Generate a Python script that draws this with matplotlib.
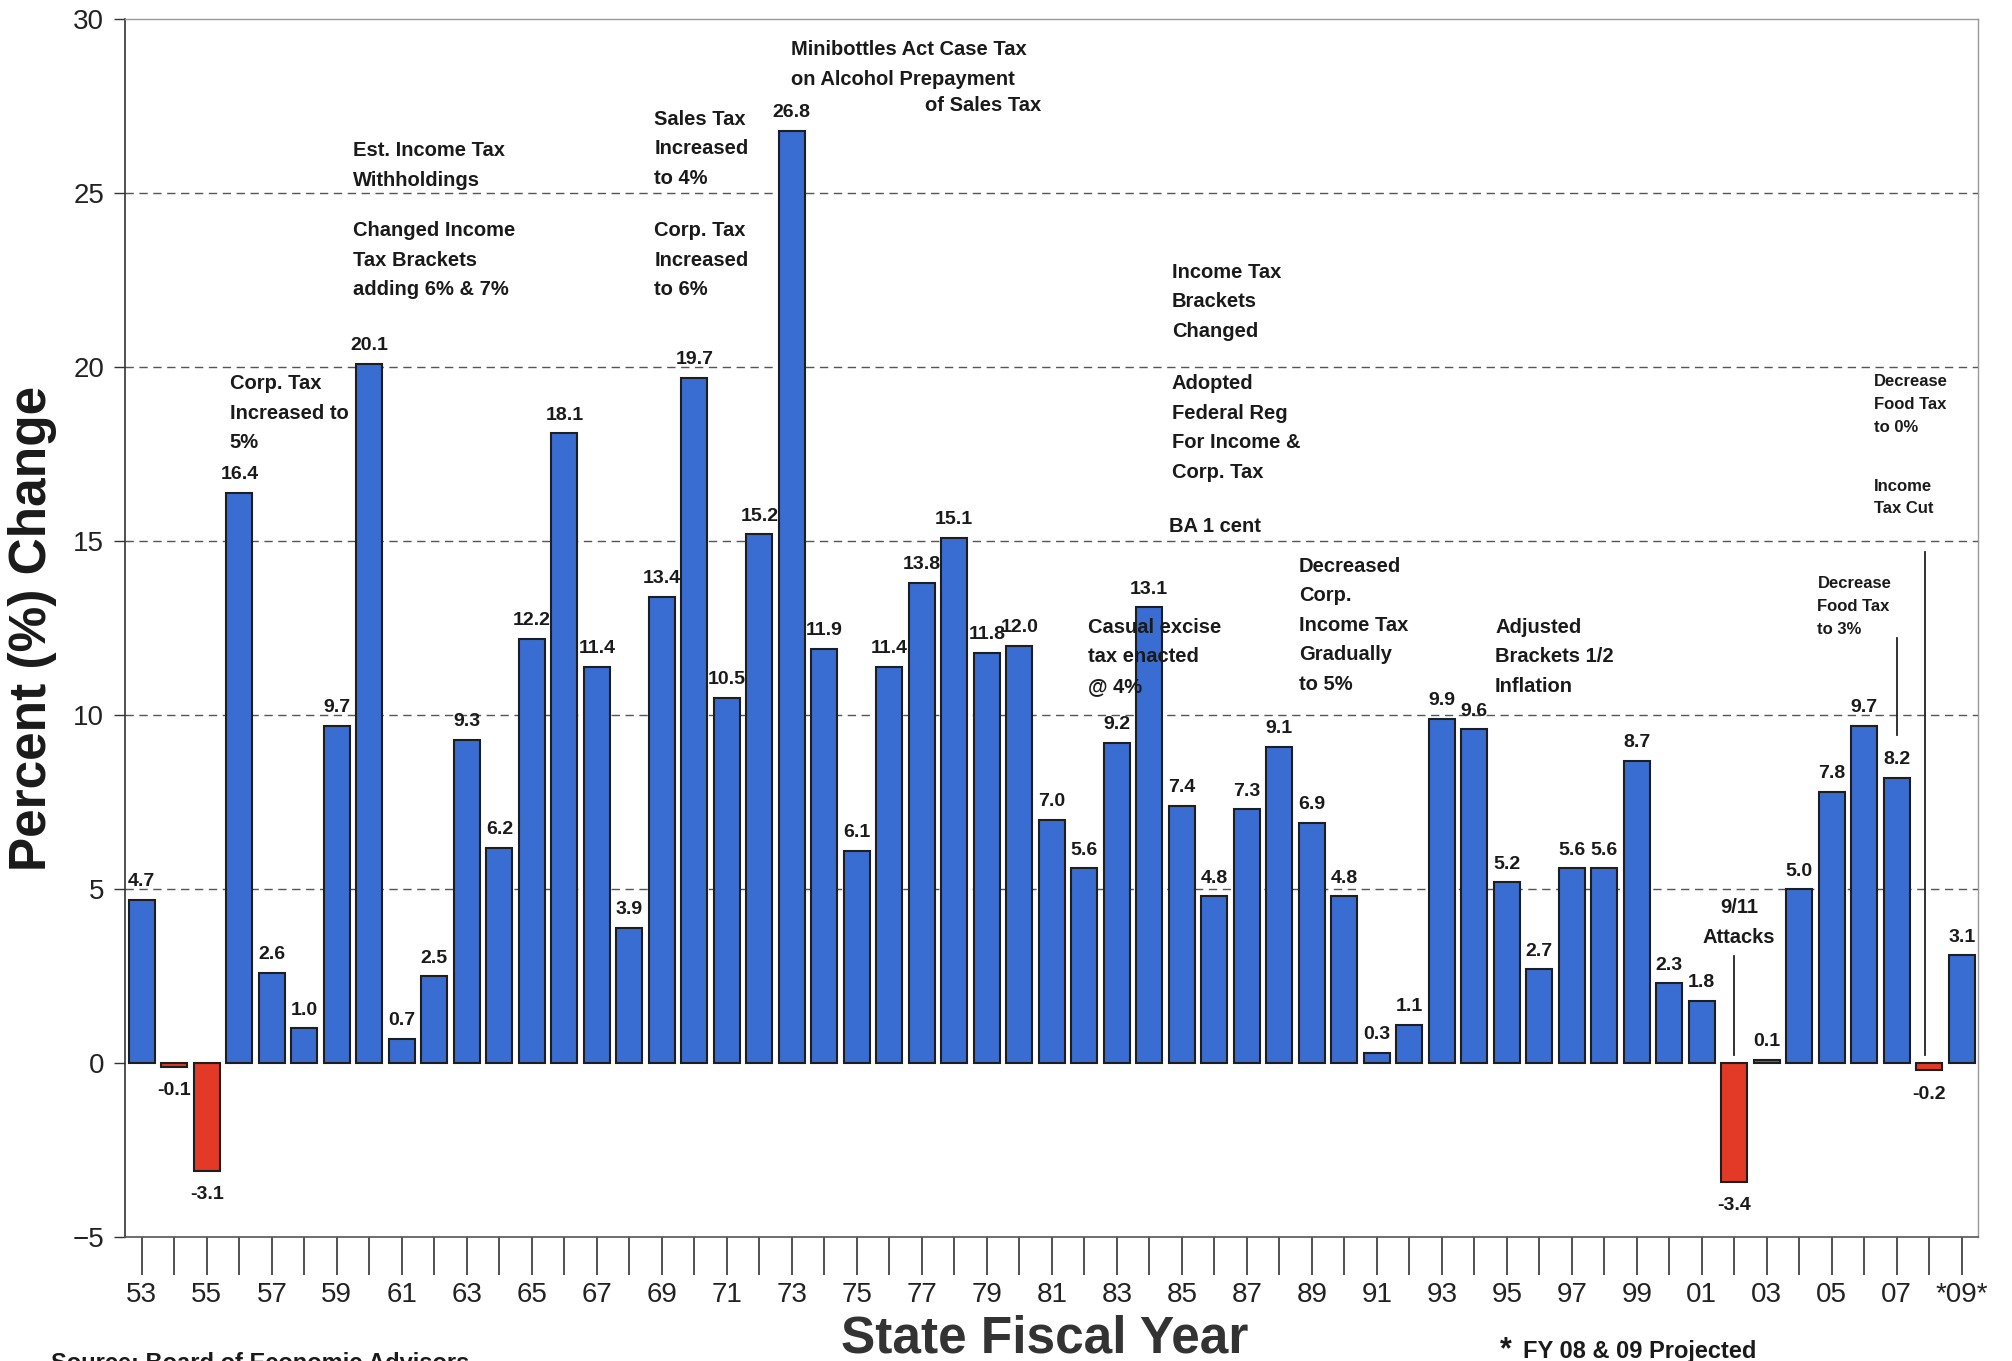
import numpy as np
import matplotlib
matplotlib.use("Agg")
import matplotlib.pyplot as plt

plt.rcParams['font.family'] = ['Liberation Sans', 'DejaVu Sans']

years = ['53', '54', '55', '56', '57', '58', '59', '60', '61', '62',
         '63', '64', '65', '66', '67', '68', '69', '70', '71', '72',
         '73', '74', '75', '76', '77', '78', '79', '80', '81', '82',
         '83', '84', '85', '86', '87', '88', '89', '90', '91', '92',
         '93', '94', '95', '96', '97', '98', '99', '00', '01', '02',
         '03', '04', '05', '06', '07', '08', '09']
pct_change = [4.7, -0.1, -3.1, 16.4, 2.6, 1.0, 9.7, 20.1, 0.7, 2.5,
              9.3, 6.2, 12.2, 18.1, 11.4, 3.9, 13.4, 19.7, 10.5, 15.2,
              26.8, 11.9, 6.1, 11.4, 13.8, 15.1, 11.8, 12.0, 7.0, 5.6,
              9.2, 13.1, 7.4, 4.8, 7.3, 9.1, 6.9, 4.8, 0.3, 1.1,
              9.9, 9.6, 5.2, 2.7, 5.6, 5.6, 8.7, 2.3, 1.8, -3.4,
              0.1, 5.0, 7.8, 9.7, 8.2, -0.2, 3.1]
projected = ['08', '09']

# (text, x in bar index units, top y in %, font size)
notes = [
    ("Corp. Tax\nIncreased to\n5%", 2.70, 19.8, 14.5),
    ("Est. Income Tax\nWithholdings", 6.49, 26.5, 14.5),
    ("Changed Income\nTax Brackets\nadding 6% & 7%", 6.49, 24.2, 14.5),
    ("Sales Tax\nIncreased\nto 4%", 15.77, 27.4, 14.5),
    ("Corp. Tax\nIncreased\nto 6%", 15.77, 24.2, 14.5),
    ("Minibottles Act Case Tax\non Alcohol Prepayment", 19.99, 29.4, 14.5),
    ("of Sales Tax", 24.1, 27.8, 14.5),
    ("Income Tax\nBrackets\nChanged", 31.69, 23.0, 14.5),
    ("Adopted\nFederal Reg\nFor Income &\nCorp. Tax", 31.69, 19.8, 14.5),
    ("BA 1 cent", 31.61, 15.7, 14.5),
    ("Casual excise\ntax enacted\n@ 4%", 29.12, 12.8, 14.5),
    ("Decreased\nCorp.\nIncome Tax\nGradually\nto 5%", 35.6, 14.55, 14.5),
    ("Adjusted\nBrackets 1/2\nInflation", 41.64, 12.8, 14.5),
    ("Decrease\nFood Tax\nto 3%", 51.56, 14.0, 12),
    ("Decrease\nFood Tax\nto 0%", 53.29, 19.8, 12),
    ("Income\nTax Cut", 53.29, 16.8, 12),
]
# pointer lines: (x, y_top, y_bottom)
pointers = [(49.0, 3.08, 0.24), (54.0, 12.23, 9.43), (54.87, 14.7, 0.24)]

blue = '#3a6dd2'
red = '#e23a26'

fig = plt.figure(figsize=(20.12, 13.61), dpi=100)
ax = fig.add_axes([0.0621, 0.0909, 0.9210, 0.8949])

x = np.arange(len(years))
colors = [red if v < 0 else blue for v in pct_change]
ax.bar(x, pct_change, width=0.8, color=colors, edgecolor='#1e1e1e',
       linewidth=1.5, zorder=2)

for xi, v in zip(x, pct_change):
    if v >= 0:
        ax.annotate(f'{v:.1f}', (xi, v), xytext=(0, 7), textcoords='offset points',
                    ha='center', va='bottom', fontsize=14, weight='bold',
                    color='#1a1a1a', zorder=4)
    else:
        ax.annotate(f'{v:.1f}', (xi, v), xytext=(0, -11), textcoords='offset points',
                    ha='center', va='top', fontsize=14, weight='bold',
                    color='#1a1a1a', zorder=4)

ax.text(49.14, 4.74, "9/11\nAttacks", ha='center', va='top', fontsize=14.5,
        weight='bold', color='#1a1a1a', linespacing=1.7, zorder=4)
for txt, tx, ty, fs in notes:
    ls = 1.7 if fs > 13 else 1.65
    ax.text(tx, ty, txt, ha='left', va='top', fontsize=fs, weight='bold',
            color='#1a1a1a', linespacing=ls, zorder=4)
for px, y0, y1 in pointers:
    ax.plot([px, px], [y0, y1], color='#222222', lw=1.3, zorder=3)

for gy in [5, 10, 15, 20, 25]:
    ax.axhline(gy, color='#555555', lw=1.0, ls=(0, (6, 4)), zorder=1)

ax.set_xlim(-0.52, 56.5)
ax.set_ylim(-5, 30)
ax.set_yticks(range(-5, 31, 5))
tick_labels = [('*%s*' % y if y in projected else y) if i % 2 == 0 else ''
               for i, y in enumerate(years)]
ax.set_xticks(x)
ax.set_xticklabels(tick_labels)
ax.tick_params(axis='x', length=27, width=1.2, pad=5, labelsize=20,
               color='#333333', labelcolor='#222222')
ax.tick_params(axis='y', length=8, width=1.0, pad=7, labelsize=20,
               color='#333333', labelcolor='#222222')

ax.spines['left'].set_color('#333333')
ax.spines['left'].set_linewidth(1.2)
ax.spines['bottom'].set_color('#555555')
ax.spines['bottom'].set_linewidth(1.2)
for s in ['top', 'right']:
    ax.spines[s].set_color('#999999')
    ax.spines[s].set_linewidth(1.0)

fig.text(0.0162, 0.538, 'Percent (%) Change', rotation=90, ha='center',
         va='center', fontsize=37, weight='bold', color='#1a1a1a')
fig.text(0.519, 0.0059, 'State Fiscal Year', ha='center', va='baseline',
         fontsize=37, weight='bold', color='#333333')
fig.text(0.7455, 0.0022, '*', ha='left', va='baseline', fontsize=22,
         weight='bold', color='#1a1a1a')
fig.text(0.757, 0.0022, 'FY 08 & 09 Projected', ha='left', va='baseline',
         fontsize=17, weight='bold', color='#1a1a1a')
# the reference crops this line at the bottom edge
fig.text(0.0253, 1 - 1352 / 1361, 'Source: Board of Economic Advisors',
         ha='left', va='top', fontsize=17, weight='bold', color='#1a1a1a')

fig.savefig('out.png', dpi=100)
